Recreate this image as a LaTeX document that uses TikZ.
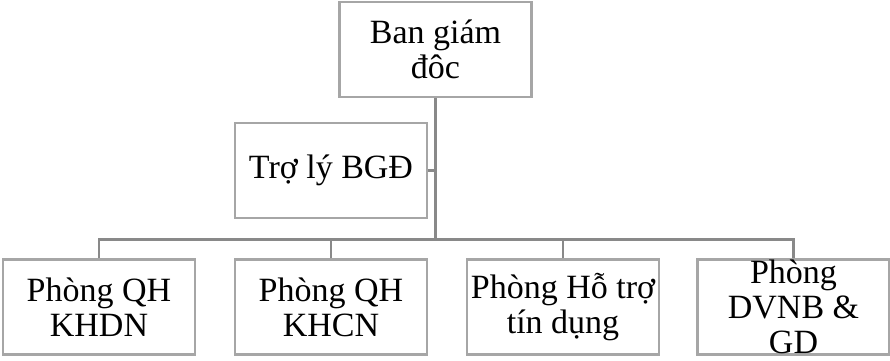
\documentclass[tikz,border=0pt]{standalone}
\usepackage{fontspec}
\setmainfont{Liberation Serif}
\definecolor{boxgray}{RGB}{166,166,166}
\definecolor{linegray}{RGB}{137,137,137}
\begin{document}
\begin{tikzpicture}[x=1pt,y=-1pt,
  box/.style={draw=boxgray, line width=2.5pt, minimum width=192pt, minimum height=95pt,
    inner sep=0pt, align=center, font=\fontsize{34}{35}\selectfont},
  txt/.style={inner sep=0pt, align=center, font=\fontsize{34}{35}\selectfont},
  conn/.style={draw=linegray, line width=2.5pt}]
\useasboundingbox (0,0) rectangle (890,360);
\node[box] (top) at (435.5,49.5) {Ban giám\\đôc};
\node[box] (tro) at (331,170.5) {Trợ lý BGĐ};
\node[box] (b1) at (99,307) {Phòng QH\\KHDN};
\node[box] (b2) at (331,307) {Phòng QH\\KHCN};
\node[box] (b3) at (563,307) {Phòng Hỗ trợ\\tín dụng};
\node[box] (b4) at (793.5,307) {};
\node[txt] (b4t) at (b4.center) {Phòng\\DVNB \&\\GD};
\coordinate (bus) at (435.5,239.5);
\draw[conn] (top.south) -- (bus);
\draw[conn] (tro.east) -- (tro.east -| top.south);
\draw[conn] (b1.north) -- (b1.north |- bus) -| (b4.north);
\draw[conn] (b2.north) -- (b2.north |- bus);
\draw[conn] (b3.north) -- (b3.north |- bus);
\end{tikzpicture}
\end{document}
